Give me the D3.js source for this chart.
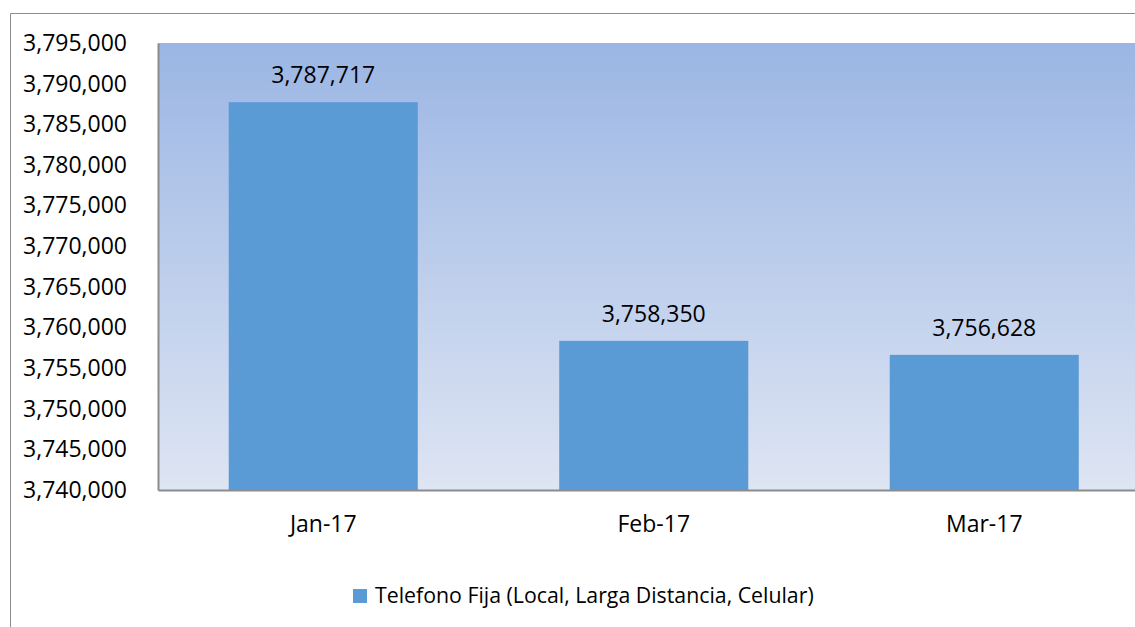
<!DOCTYPE html>
<html>
<head>
<meta charset="utf-8">
<script src="https://cdn.jsdelivr.net/npm/d3@7"></script>
<style>
  body { margin: 0; background: #fff; overflow: hidden; }
  svg { display: block; }
  text { font-family: "Open Sans", sans-serif; fill: #000; }
</style>
</head>
<body>
<svg width="1135" height="627"></svg>
<script>
const months = ['Jan-17', 'Feb-17', 'Mar-17'];
const values = [3787717, 3758350, 3756628];
const yTicks = [3740000, 3745000, 3750000, 3755000, 3760000, 3765000,
  3770000, 3775000, 3780000, 3785000, 3790000, 3795000];
const seriesName = 'Telefono Fija (Local, Larga Distancia, Celular)';

const svg = d3.select('svg'),
  plotLeft = 158,
  plotTop = 43,
  plotRight = 1149.5,
  plotBottom = 490,
  fontSize = 23;

// outer chart frame: only its left and top edges fall inside the picture
svg
  .append('path')
  .attr('d', 'M10.5,627V13.5H1135')
  .attr('fill', 'none')
  .attr('stroke', '#8c8c8c')
  .attr('stroke-width', 1);

const grad = svg
  .append('defs')
  .append('linearGradient')
  .attr('id', 'bg')
  .attr('x1', 0)
  .attr('y1', 0)
  .attr('x2', 0)
  .attr('y2', 1);
grad.append('stop').attr('offset', '0%').attr('stop-color', '#9bb6e4');
grad.append('stop').attr('offset', '100%').attr('stop-color', '#dee5f3');

const xScale = d3
    .scaleBand()
    .domain(months)
    .range([plotLeft, plotRight])
    .paddingInner(0.428)
    .paddingOuter(0.214),
  yScale = d3.scaleLinear().domain([3740000, 3795000]).range([plotBottom, plotTop]);

svg
  .append('rect')
  .attr('x', plotLeft)
  .attr('y', plotTop)
  .attr('width', plotRight - plotLeft)
  .attr('height', plotBottom - plotTop)
  .attr('fill', 'url(#bg)');

svg
  .selectAll('.bar')
  .data(values)
  .enter()
  .append('rect')
  .attr('class', 'bar')
  .attr('x', (d, i) => xScale(months[i]))
  .attr('y', (d) => yScale(d))
  .attr('width', xScale.bandwidth())
  .attr('height', (d) => plotBottom - yScale(d))
  .attr('fill', '#5b9bd5');

svg
  .selectAll('.label')
  .data(values)
  .enter()
  .append('text')
  .attr('class', 'label')
  .attr('x', (d, i) => xScale(months[i]) + xScale.bandwidth() / 2)
  .attr('y', (d) => yScale(d) - 19)
  .attr('text-anchor', 'middle')
  .attr('font-size', fontSize + 'px')
  .text((d) => d3.format(',')(d));

const yAxis = svg
  .append('g')
  .attr('transform', `translate(${plotLeft},0)`)
  .call(
    d3
      .axisLeft(yScale)
      .tickValues(yTicks)
      .tickSize(0)
      .tickSizeOuter(0)
      .tickPadding(31)
      .tickFormat(d3.format(','))
  );
yAxis.select('.domain').attr('stroke', '#8c8c8c').attr('stroke-width', 2);
yAxis.selectAll('text').attr('font-size', fontSize + 'px').attr('font-family', null);

const xAxis = svg
  .append('g')
  .attr('transform', `translate(0,${plotBottom})`)
  .call(d3.axisBottom(xScale).tickSize(0).tickSizeOuter(0).tickPadding(26));
xAxis.select('.domain').attr('stroke', '#8c8c8c').attr('stroke-width', 2);
xAxis.selectAll('text').attr('font-size', fontSize + 'px').attr('font-family', null);

const legend = svg.append('g').attr('transform', 'translate(353,589)');
legend
  .append('rect')
  .attr('width', 14)
  .attr('height', 14)
  .attr('fill', '#5b9bd5');
legend
  .append('text')
  .attr('x', 22)
  .attr('y', 7)
  .attr('dy', '0.35em')
  .attr('font-size', '21.3px')
  .text(seriesName);
</script>
</body>
</html>
